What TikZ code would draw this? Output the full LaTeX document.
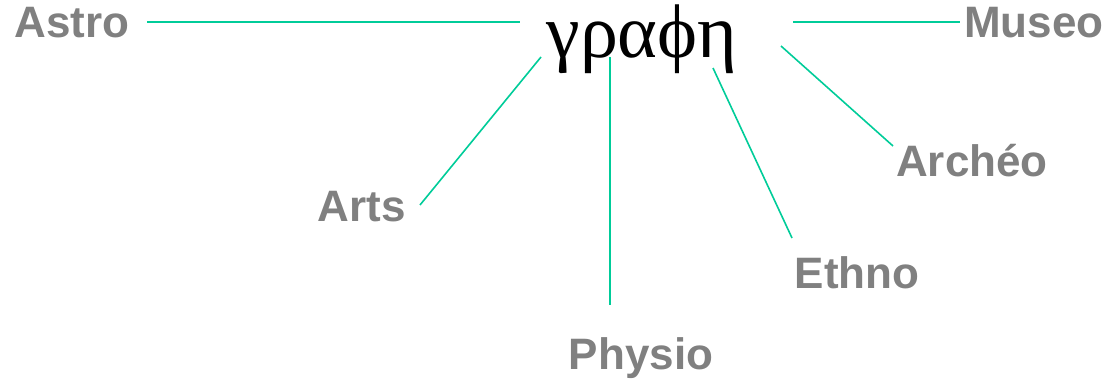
\documentclass[tikz,border=0pt]{standalone}
\usepackage{fontspec}
\setmainfont{Liberation Sans}
\newfontfamily\grk{Liberation Serif}
\definecolor{lbl}{RGB}{128,128,128}
\definecolor{lnk}{RGB}{0,204,153}
\tikzset{
  lab/.style={font=\fontsize{44}{44}\selectfont\bfseries, text=lbl, inner sep=0pt, anchor=base},
  link/.style={draw=lnk, line width=1.6pt},
  pt/.style={inner sep=0pt, minimum size=0pt}
}
\begin{document}
\begin{tikzpicture}[x=1pt,y=-1pt]
\useasboundingbox (0,0) rectangle (1113,382);
\node[inner sep=0pt, anchor=base, font=\grk\fontsize{76}{76}\selectfont] (g) at (642,58) {γραϕη};
\node[lab] (astro) at (72,38) {Astro};
\node[lab] (museo) at (1034,38) {Museo};
\node[lab] (arch) at (972,177) {Archéo};
\node[lab] (arts) at (362,221) {Arts};
\node[lab] (ethno) at (857,288) {Ethno};
\node[lab] (physio) at (641,369) {Physio};
\coordinate (a1) at (147,22); \coordinate (a2) at (520,22);
\coordinate (m1) at (793,22); \coordinate (m2) at (960,22);
\coordinate (r1) at (541,57); \coordinate (r2) at (420,205);
\coordinate (p1) at (610,57); \coordinate (p2) at (610,305);
\coordinate (e1) at (713,68); \coordinate (e2) at (792,238);
\coordinate (h1) at (781,46); \coordinate (h2) at (893,146);
\draw[link] (a1) -- (a2);
\draw[link] (m1) -- (m2);
\draw[link] (r1) -- (r2);
\draw[link] (p1) -- (p2);
\draw[link] (e1) -- (e2);
\draw[link] (h1) -- (h2);
\end{tikzpicture}
\end{document}
